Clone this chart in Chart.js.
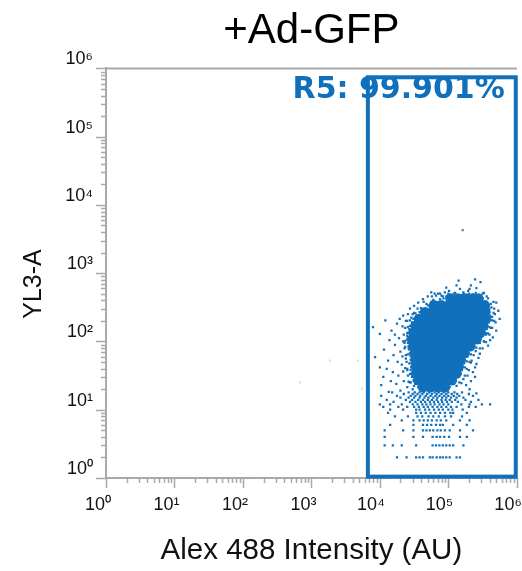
<!DOCTYPE html>
<html>
<head>
<meta charset="utf-8">
<script src="https://cdn.jsdelivr.net/npm/chart.js@4.4.1/dist/chart.umd.min.js"></script>
<style>
  html, body { margin: 0; padding: 0; background: #fff; }
  #wrap { width: 522px; height: 571px; }
</style>
</head>
<body>
<div id="wrap"><canvas id="plot"></canvas></div>
<script>
// ---- Axis decades and their labels ----
const decades = [0, 1, 2, 3, 4, 5, 6];
const decadeLabels = ['10⁰', '10¹', '10²', '10³', '10⁴', '10⁵', '10⁶'];

// ---- Event positions, as log10 of intensity (Alex 488 decade, YL3-A decade) ----
// Densest part of the population: one row per YL3-A level
const coreLevelsLog = [2.63, 2.53, 2.43, 2.33, 2.23, 2.13, 2.03, 1.93, 1.83, 1.73, 1.63, 1.53, 1.43, 1.33];
const coreAlexLog = [
  [5.03, 5.14, 5.25, 5.35, 5.44],
  [4.79, 4.90, 5.01, 5.12, 5.23, 5.34, 5.45, 5.53],
  [4.66, 4.77, 4.88, 4.99, 5.10, 5.21, 5.32, 5.43, 5.54],
  [4.57, 4.67, 4.78, 4.89, 5.00, 5.11, 5.22, 5.33, 5.44, 5.55],
  [4.52, 4.63, 4.74, 4.85, 4.96, 5.07, 5.18, 5.29, 5.40, 5.51],
  [4.49, 4.60, 4.71, 4.82, 4.93, 5.04, 5.15, 5.26, 5.37, 5.47],
  [4.47, 4.58, 4.69, 4.80, 4.91, 5.02, 5.13, 5.24, 5.34, 5.41],
  [4.49, 4.60, 4.71, 4.82, 4.93, 5.04, 5.15, 5.25, 5.32],
  [4.51, 4.62, 4.73, 4.84, 4.95, 5.06, 5.16, 5.24],
  [4.52, 4.63, 4.74, 4.85, 4.96, 5.07, 5.18],
  [4.53, 4.64, 4.75, 4.86, 4.97, 5.08, 5.15],
  [4.53, 4.64, 4.75, 4.86, 4.97, 5.07, 5.12],
  [4.56, 4.67, 4.78, 4.89, 5.00, 5.05],
  [4.63, 4.74, 4.85, 4.95]
];

// Events along the edge of the dense part
const fringeLog = [
  [4.93, 2.63], [4.97, 2.66], [5.50, 2.63], [4.86, 2.58], [5.56, 2.58], [4.70, 2.53], [4.73, 2.50],
  [5.59, 2.53], [5.62, 2.55], [4.66, 2.48], [5.60, 2.48], [4.58, 2.43], [4.61, 2.45], [5.60, 2.43],
  [4.54, 2.38], [5.61, 2.38], [4.49, 2.33], [4.52, 2.30], [5.61, 2.33], [5.64, 2.31], [4.47, 2.28],
  [5.59, 2.28], [4.44, 2.23], [5.57, 2.23], [5.60, 2.21], [4.43, 2.18], [5.56, 2.18], [4.41, 2.13],
  [5.53, 2.13], [5.55, 2.10], [4.40, 2.08], [5.50, 2.08], [4.40, 2.03], [5.47, 2.03], [4.41, 1.98],
  [5.43, 1.98], [4.42, 1.93], [5.38, 1.93], [5.41, 1.91], [4.43, 1.88], [5.34, 1.88], [4.44, 1.83],
  [5.30, 1.83], [5.33, 1.81], [4.45, 1.78], [5.28, 1.78], [4.45, 1.73], [5.24, 1.73], [5.27, 1.71],
  [4.46, 1.68], [5.23, 1.68], [4.46, 1.63], [5.21, 1.63], [4.45, 1.58], [5.20, 1.58], [4.46, 1.53],
  [5.18, 1.53], [4.47, 1.48], [5.15, 1.48], [4.49, 1.43], [5.11, 1.43], [4.52, 1.38], [5.08, 1.38],
  [4.56, 1.33], [5.02, 1.33], [4.60, 1.29], [4.70, 1.28], [4.81, 1.29], [4.90, 1.28], [4.99, 1.29],
  [4.80, 2.70], [4.88, 2.70], [5.00, 2.70], [5.10, 2.71], [5.22, 2.70], [5.30, 2.70], [5.40, 2.71],
  [5.50, 2.70], [4.76, 2.66], [4.90, 2.67], [5.18, 2.66], [5.56, 2.66], [4.64, 2.58], [4.75, 2.58],
  [5.66, 2.58], [4.55, 2.48], [4.60, 2.49], [5.67, 2.48], [4.48, 2.40], [4.52, 2.41], [5.68, 2.40],
  [4.40, 2.30], [4.44, 2.31], [5.67, 2.30], [4.37, 2.20], [4.41, 2.21], [5.64, 2.20], [4.35, 2.10],
  [5.60, 2.10], [5.58, 2.12], [4.34, 2.00], [4.37, 2.01], [5.52, 2.00], [5.55, 1.99], [4.36, 1.90],
  [5.46, 1.90], [4.38, 1.80], [4.41, 1.81], [5.37, 1.80], [4.39, 1.70], [5.31, 1.70], [5.33, 1.69],
  [4.40, 1.60], [4.37, 1.61], [5.27, 1.60], [4.41, 1.50], [5.24, 1.50], [4.44, 1.40], [4.42, 1.41],
  [5.16, 1.40], [5.19, 1.39], [4.50, 1.35], [5.12, 1.35]
];

// Scattered events around the dense part
const haloLog = [
  [4.63, 2.62], [4.56, 2.57], [4.70, 2.66], [4.78, 2.61], [4.85, 2.70], [4.92, 2.66], [5.01, 2.74],
  [5.08, 2.70], [5.17, 2.77], [5.22, 2.72], [5.29, 2.74], [5.36, 2.69], [5.41, 2.78], [5.47, 2.87],
  [5.52, 2.71], [5.58, 2.63], [5.44, 2.66], [4.97, 2.79], [5.12, 2.82], [5.33, 2.82], [4.75, 2.72],
  [4.88, 2.62], [5.26, 2.66], [5.55, 2.58], [5.63, 2.50], [5.70, 2.57], [5.15, 2.89], [4.68, 2.55],
  [5.39, 2.91], [5.05, 2.64], [4.95, 2.72], [5.20, 2.68], [5.31, 2.77], [4.82, 2.67],
  [5.75, 2.33], [5.70, 2.16], [5.65, 2.06], [5.58, 1.94], [5.46, 1.82], [5.41, 1.67], [5.66, 2.42],
  [5.60, 2.30], [5.62, 2.20], [5.57, 2.38], [5.55, 2.12], [5.52, 2.00], [5.50, 1.90], [5.44, 1.76],
  [5.39, 1.62], [5.36, 1.55], [5.39, 1.48], [5.41, 1.24], [5.26, 1.36], [5.33, 1.42], [5.30, 1.58],
  [5.34, 1.72], [5.40, 1.86], [5.48, 2.06], [5.61, 2.02], [5.53, 2.47], [5.69, 2.28], [5.73, 2.45],
  [5.46, 1.98], [5.31, 1.30], [5.22, 1.45], [5.28, 1.50], [5.24, 1.62], [5.59, 2.52], [5.64, 2.36],
  [4.08, 2.31], [3.90, 2.21], [4.00, 2.11], [4.17, 2.16], [4.34, 2.38], [4.44, 2.48], [4.50, 2.52],
  [3.93, 1.77], [4.00, 1.62], [4.05, 1.48], [4.02, 1.36], [4.12, 1.72], [4.19, 1.55], [4.22, 1.95],
  [4.28, 2.05], [4.33, 2.22], [4.38, 2.30], [4.25, 2.26], [4.14, 2.02], [4.06, 1.88], [4.30, 1.85],
  [4.36, 1.98], [4.40, 2.12], [4.42, 1.90], [4.38, 1.75], [4.32, 1.66], [4.27, 1.50], [4.35, 1.42],
  [4.40, 1.58], [4.43, 1.68], [4.45, 1.40], [4.48, 1.30], [4.40, 1.33], [4.30, 1.28], [4.24, 1.38],
  [4.16, 1.42], [4.10, 1.60], [4.20, 1.80], [4.13, 1.26], [4.46, 2.35], [4.50, 2.42], [4.26, 1.70],
  [4.34, 1.56], [4.44, 1.52], [4.37, 1.92], [4.45, 1.80], [4.41, 2.40], [4.29, 2.33], [4.22, 2.10],
  [4.47, 2.22], [4.44, 2.02], [4.33, 1.78], [4.46, 1.62]
];

// Low YL3-A events sit on whole-number counts
const rowCounts = [2, 3, 4, 5, 6, 7, 8, 9, 10, 11, 12, 13, 14, 15, 16, 17, 18];
const rowAlexLog = [
  [4.25, 4.39, 4.53, 4.58, 4.63, 4.73, 4.77, 4.83, 4.88, 4.92, 4.97, 5.02, 5.12, 5.17],
  [4.07, 4.19, 4.32, 4.53, 4.77, 4.82, 4.87, 4.92, 4.97, 5.02, 5.07, 5.22],
  [4.07, 4.49, 4.63, 4.77, 4.83, 4.88, 4.94, 5.01, 5.17, 5.27],
  [4.07, 4.34, 4.49, 4.63, 4.68, 4.73, 4.78, 4.84, 4.89, 4.95, 5.02, 5.17, 5.36],
  [4.15, 4.49, 4.63, 4.69, 4.75, 4.82, 4.88, 4.92, 5.07, 5.27],
  [4.32, 4.49, 4.58, 4.64, 4.70, 4.76, 4.83, 4.89, 4.97, 5.17, 5.31],
  [4.22, 4.41, 4.55, 4.62, 4.71, 4.78, 4.86, 4.95, 5.04, 5.20],
  [4.12, 4.53, 4.60, 4.67, 4.74, 4.81, 4.88, 4.95, 5.03, 5.07, 5.27],
  [4.15, 4.34, 4.53, 4.58, 4.66, 4.72, 4.79, 4.86, 4.92, 5.00, 5.06, 5.21],
  [4.05, 4.27, 4.40, 4.50, 4.57, 4.64, 4.70, 4.77, 4.84, 4.90, 4.97, 5.04, 5.12, 5.30, 5.40],
  [4.00, 4.15, 4.32, 4.48, 4.55, 4.62, 4.68, 4.74, 4.80, 4.87, 4.93, 5.00, 5.19, 5.31, 5.49, 5.61],
  [4.20, 4.44, 4.52, 4.60, 4.66, 4.73, 4.79, 4.85, 4.91, 4.98, 5.05, 5.14, 5.33],
  [4.10, 4.38, 4.47, 4.56, 4.63, 4.70, 4.76, 4.83, 4.90, 4.96, 5.02, 5.10, 5.25, 5.44],
  [4.30, 4.42, 4.50, 4.58, 4.65, 4.71, 4.78, 4.84, 4.91, 4.97, 5.04, 5.12, 5.22],
  [4.02, 4.25, 4.45, 4.52, 4.59, 4.67, 4.74, 4.81, 4.87, 4.94, 5.00, 5.08, 5.16, 5.36],
  [4.35, 4.48, 4.55, 4.62, 4.69, 4.76, 4.83, 4.90, 4.97, 5.05, 5.13, 5.30],
  [4.18, 4.42, 4.51, 4.58, 4.64, 4.72, 4.80, 4.86, 4.93, 5.00, 5.09, 5.20]
];

// Isolated bright event and the few events left of the gate
const outlierLog = [[5.21, 3.63]];
const ungatedLog = [[3.27, 1.72], [3.68, 1.72], [2.83, 1.40], [3.74, 1.31]];

// ---- Gate R5 (log10 bounds) ----
const gateName = 'R5';
const gatePercent = 99.901;
const gateAlexLog = [3.825, 5.985];
const gateYl3Log = [0.02, 5.87];

// ---- Styling ----
const BLUE = '#1170bb';
const AXIS_GREY = '#a9a9a9';
const SANS = '"Liberation Sans", Arial, sans-serif';

const toPoints = pairs => pairs.map(([a, b]) => ({ x: 10 ** a, y: 10 ** b }));
const corePoints = coreLevelsLog.flatMap((lv, i) => coreAlexLog[i].map(a => ({ x: 10 ** a, y: 10 ** lv })));
const rowPoints = rowCounts.flatMap((c, i) => rowAlexLog[i].map(a => ({ x: 10 ** a, y: c })));

// Minor and major tick marks, the frame's top line, the y title, the gate
const axisDecor = {
  id: 'axisDecor',
  beforeDatasetsDraw(chart) {
    const { ctx, chartArea: a, scales: { x, y } } = chart;
    ctx.save();
    ctx.strokeStyle = AXIS_GREY;
    ctx.lineWidth = 2;
    ctx.beginPath();
    ctx.moveTo(a.left - 1, a.top);
    ctx.lineTo(a.right, a.top);
    ctx.stroke();

    ctx.lineWidth = 1.5;
    ctx.beginPath();
    for (let d = 0; d <= 6; d++) {
      for (let k = 1; k <= 9; k++) {
        if (d === 6 && k > 1) break;
        const v = k * 10 ** d;
        const len = k === 1 ? 10 : 5;
        const px = Math.round(x.getPixelForValue(v)) + 0.5;
        ctx.moveTo(px, a.bottom);
        ctx.lineTo(px, a.bottom + len);
        const py = Math.round(y.getPixelForValue(v)) + 0.5;
        ctx.moveTo(a.left - len, py);
        ctx.lineTo(a.left, py);
      }
    }
    ctx.stroke();

    ctx.fillStyle = '#111';
    ctx.font = '25px ' + SANS;
    ctx.textAlign = 'center';
    ctx.textBaseline = 'middle';
    ctx.translate(34, 284);
    ctx.rotate(-Math.PI / 2);
    ctx.fillText('YL3-A', 0, 0);
    ctx.restore();
  },
  afterDatasetsDraw(chart) {
    const { ctx, scales: { x, y } } = chart;
    const gx0 = x.getPixelForValue(10 ** gateAlexLog[0]);
    const gx1 = x.getPixelForValue(10 ** gateAlexLog[1]);
    const gy0 = y.getPixelForValue(10 ** gateYl3Log[0]);
    const gy1 = y.getPixelForValue(10 ** gateYl3Log[1]);
    ctx.save();
    ctx.strokeStyle = BLUE;
    ctx.lineWidth = 4;
    ctx.strokeRect(gx0, gy1, gx1 - gx0, gy0 - gy1);
    ctx.fillStyle = BLUE;
    ctx.font = 'bold 30px "DejaVu Sans", Verdana, sans-serif';
    ctx.textAlign = 'right';
    ctx.textBaseline = 'alphabetic';
    ctx.fillText(`${gateName}: ${gatePercent.toFixed(3)}%`, gx1 - 11, gy1 + 21);
    ctx.restore();
  }
};

const decadeTicks = scale => { scale.ticks = decades.map(d => ({ value: 10 ** d })); };
const decadeLabel = v => decadeLabels[Math.round(Math.log10(v))];

Chart.defaults.font.family = SANS;

const dot = { pointStyle: 'rect', pointRadius: 1.6, borderWidth: 0 };

new Chart(document.getElementById('plot'), {
  type: 'scatter',
  data: {
    datasets: [
      { label: 'core', data: corePoints, backgroundColor: BLUE, pointStyle: 'circle', pointRadius: 5.2, borderWidth: 0 },
      { label: 'fringe', data: toPoints(fringeLog), backgroundColor: BLUE, ...dot },
      { label: 'scatter', data: toPoints(haloLog), backgroundColor: BLUE, ...dot },
      { label: 'low', data: rowPoints, backgroundColor: BLUE, ...dot },
      { label: 'outlier', data: toPoints(outlierLog), backgroundColor: '#6d7f91', ...dot },
      { label: 'ungated', data: toPoints(ungatedLog), backgroundColor: '#eadfc6', ...dot }
    ]
  },
  options: {
    responsive: true,
    maintainAspectRatio: false,
    animation: false,
    devicePixelRatio: 1,
    events: [],
    layout: { padding: { left: 0, right: 5, top: 0, bottom: 0 } },
    plugins: {
      legend: { display: false },
      tooltip: { enabled: false },
      title: {
        display: true,
        text: '+Ad-GFP',
        fullSize: false,
        color: '#000',
        font: { size: 42, weight: 'normal', family: SANS },
        padding: { top: 6, bottom: 12 }
      }
    },
    scales: {
      x: {
        type: 'logarithmic',
        min: 1, max: 1e6,
        afterBuildTicks: decadeTicks,
        afterFit: s => { s.height = 93; s.paddingLeft = 0; s.paddingRight = 0; },
        grid: { display: false, drawTicks: false },
        border: { display: true, color: AXIS_GREY, width: 2 },
        ticks: {
          callback: decadeLabel, autoSkip: false, maxRotation: 0, minRotation: 0,
          align: 'end', labelOffset: 5, padding: 16,
          color: '#111', font: { size: 18, family: SANS }
        },
        title: {
          display: true, text: 'Alex 488 Intensity (AU)', color: '#111',
          font: { size: 29.5, family: SANS }, padding: { top: 0, bottom: 2 }
        }
      },
      y: {
        type: 'logarithmic',
        min: 1, max: 1e6,
        afterBuildTicks: decadeTicks,
        afterFit: s => { s.width = 106; s.paddingTop = 0; s.paddingBottom = 0; },
        grid: { display: false, drawTicks: false },
        border: { display: true, color: AXIS_GREY, width: 2 },
        ticks: {
          callback: decadeLabel, autoSkip: false,
          labelOffset: -9, padding: 13,
          color: '#111', font: { size: 18, family: SANS }
        }
      }
    }
  },
  plugins: [axisDecor]
});
</script>
</body>
</html>
